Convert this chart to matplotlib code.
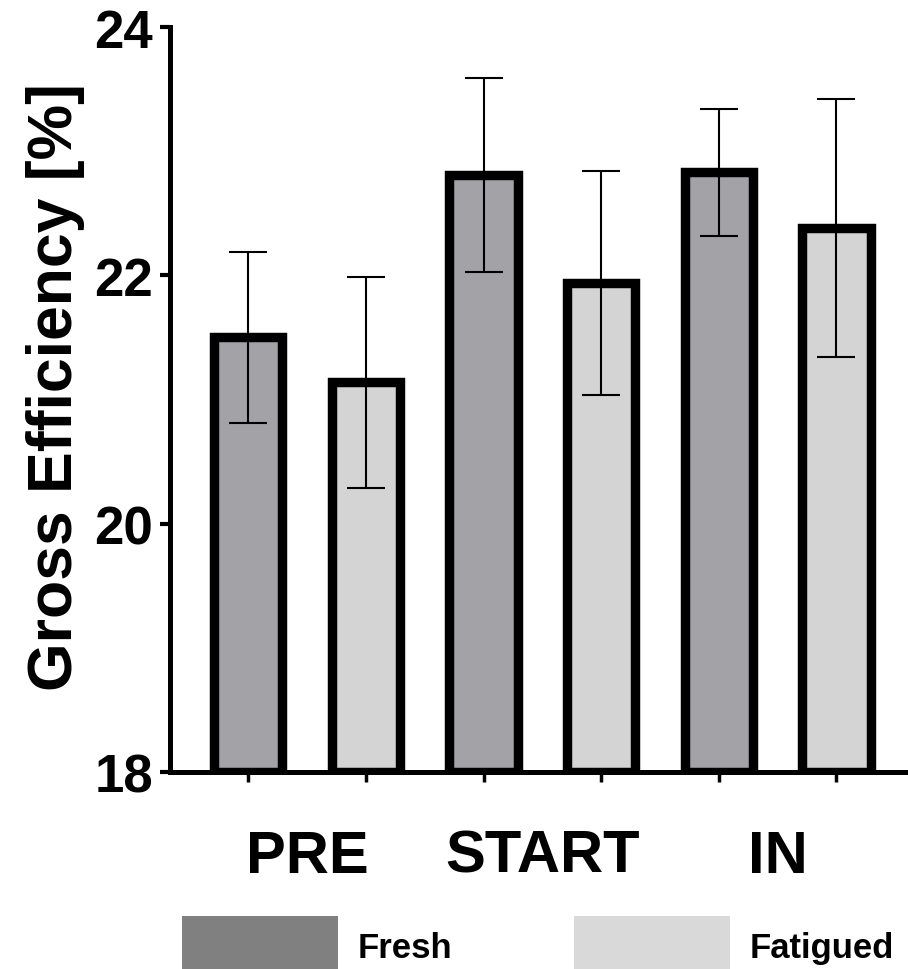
import numpy as np
import matplotlib
matplotlib.use('Agg')
import matplotlib.pyplot as plt
from matplotlib.patches import Rectangle

plt.rcParams['font.family'] = ['Liberation Sans', 'DejaVu Sans']
plt.rcParams['font.weight'] = 'bold'

# Données
groups = ['PRE', 'START', 'IN']
series = ['Fresh', 'Fatigued']
fresh_mean = [21.50, 22.81, 22.83]
fresh_sd = [0.69, 0.78, 0.51]
fatigued_mean = [21.14, 21.94, 22.38]
fatigued_sd = [0.85, 0.90, 1.04]
yticks = [18, 20, 22, 24]

bar_colors = ['#a3a2a7', '#d4d4d4']
legend_colors = ['#808080', '#d9d9d9']

fig = plt.figure(figsize=(9.08, 9.70), dpi=100)
ax = fig.add_axes([0.187, 0.2031, 0.813, 0.768])

width = 0.58
x_groups = np.arange(len(groups)) * 2
for s, (means, sds) in enumerate([(fresh_mean, fresh_sd), (fatigued_mean, fatigued_sd)]):
    xs = x_groups + s
    ax.bar(xs, np.array(means) - 18, width, bottom=18, color=bar_colors[s],
           edgecolor='black', linewidth=6.8, zorder=2)
    ax.errorbar(xs, means, yerr=sds, fmt='none', ecolor='black',
                elinewidth=1.5, capsize=14, capthick=1.5, zorder=3)

ax.set_ylim(18, 24)
ax.set_xlim(-0.667, 5.608)
ax.set_yticks(yticks)
ax.set_yticklabels([str(t) for t in yticks], fontsize=38, fontweight='bold')
ax.tick_params(axis='y', length=7, width=3, pad=5)

# ticks sous chaque barre, labels de groupe au milieu
ax.set_xticks(np.concatenate([x_groups, x_groups + 1]))
ax.set_xticklabels([])
ax.tick_params(axis='x', which='major', length=7, width=2.5)
ax.set_xticks(x_groups + 0.5, minor=True)
ax.set_xticklabels(groups, minor=True, fontsize=43, fontweight='bold')
ax.tick_params(axis='x', which='minor', length=0, pad=41)

for side in ('top', 'right'):
    ax.spines[side].set_visible(False)
for side in ('left', 'bottom'):
    ax.spines[side].set_linewidth(3.6)

ax.set_ylabel('Gross Efficiency [%]', fontsize=45, fontweight='bold')
ax.yaxis.set_label_coords(-0.115, 0.518)

# légende en bas (patchs coupés par le bord)
for x0, xt, col, name in [(0.2004, 0.394, legend_colors[0], series[0]),
                          (0.6322, 0.826, legend_colors[1], series[1])]:
    fig.add_artist(Rectangle((x0, -0.01), 0.1718, 0.0646, transform=fig.transFigure,
                             facecolor=col, edgecolor='none'))
    fig.text(xt, 0.0124, name, fontsize=25, fontweight='bold', va='baseline', ha='left')

fig.savefig('out.png', dpi=100)
